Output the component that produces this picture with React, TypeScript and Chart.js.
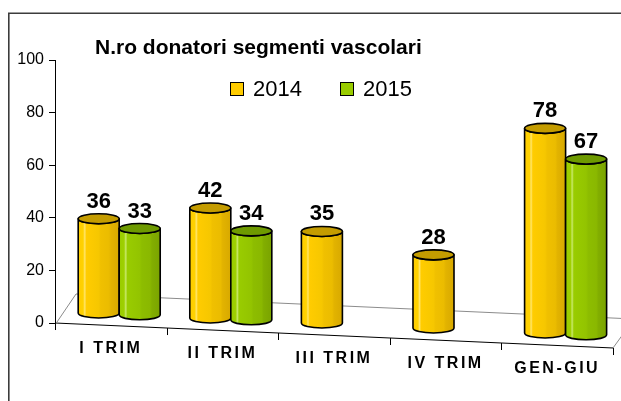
import React, { useEffect, useRef } from "react";
import { Chart, registerables } from "chart.js";

Chart.register(...registerables);

// ---- data ----
const chartTitle = "N.ro donatori segmenti vascolari";
const categories = ["I TRIM", "II TRIM", "III TRIM", "IV TRIM", "GEN-GIU"];
const seriesNames = ["2014", "2015"];
const values2014: (number | null)[] = [36, 42, 35, 28, 78];
const values2015: (number | null)[] = [33, 34, null, null, 67];
const yTicks = [0, 20, 40, 60, 80, 100];

// ---- styles ----
const FONT = 'Arial, "Liberation Sans", sans-serif';
const PALETTE = [
  {
    swatch: "#FFCC00",
    cap: "#C49C00",
    stops: [
      [0, "#FFCC00"],
      [0.12, "#FFD200"],
      [0.16, "#FFE56A"],
      [0.2, "#FFCC00"],
      [0.5, "#F6C700"],
      [0.55, "#F0C000"],
      [0.75, "#EBBC00"],
      [0.8, "#E2B300"],
      [1, "#D8A900"],
    ] as [number, string][],
  },
  {
    swatch: "#99CC00",
    cap: "#6E9A00",
    stops: [
      [0, "#99CC00"],
      [0.12, "#9ED000"],
      [0.16, "#C8E86A"],
      [0.2, "#99CC00"],
      [0.5, "#93C400"],
      [0.55, "#8DBD00"],
      [0.75, "#8AB800"],
      [0.8, "#82AE00"],
      [1, "#7AA300"],
    ] as [number, string][],
  },
];

// 3D floor perspective (pixels)
const SLOPE = 0.0448;
const DEPTH_X = 21;
const DEPTH_Y = 29;
const BAR_DEPTH = 0.4;

const decoPlugin = {
  id: "deco3d",
  beforeDraw(chart: any) {
    const { ctx, width, height } = chart;
    ctx.save();
    ctx.fillStyle = "#ffffff";
    ctx.fillRect(0, 0, width, height);
    ctx.strokeStyle = "#3c3c3c";
    ctx.lineWidth = 1.6;
    ctx.beginPath();
    ctx.moveTo(8.8, height + 2);
    ctx.lineTo(8.8, 13.3);
    ctx.lineTo(width + 2, 13.3);
    ctx.stroke();
    ctx.restore();
  },
  beforeDatasetsDraw(chart: any) {
    const { ctx, chartArea } = chart;
    const xs = chart.scales.x;
    const y0 = chart.scales.y.getPixelForValue(0);
    const x0 = chartArea.left;
    const x1 = chartArea.right;
    const F = (x: number) => y0 + (x - x0) * SLOPE;
    ctx.save();
    // floor (back and side edges)
    ctx.strokeStyle = "#8c8c8c";
    ctx.lineWidth = 1;
    ctx.beginPath();
    ctx.moveTo(x0 + 2, y0 - 1);
    ctx.lineTo(x0 + DEPTH_X, y0 - DEPTH_Y);
    ctx.lineTo(x1 + DEPTH_X, F(x1) - DEPTH_Y);
    ctx.lineTo(x1, F(x1));
    ctx.stroke();
    // front axis line
    ctx.strokeStyle = "#000";
    ctx.beginPath();
    ctx.moveTo(x0, y0);
    ctx.lineTo(x1, F(x1));
    ctx.stroke();
    // category ticks
    for (let i = 0; i <= categories.length; i++) {
      const x = Math.round(xs.getPixelForValue(i - 0.5)) + 0.5;
      ctx.beginPath();
      ctx.moveTo(x, F(x));
      ctx.lineTo(x, F(x) + 7);
      ctx.stroke();
    }
    // category labels
    ctx.fillStyle = "#000";
    ctx.font = `bold 16px ${FONT}`;
    (ctx as any).letterSpacing = "2.5px";
    ctx.textAlign = "center";
    ctx.textBaseline = "middle";
    categories.forEach((c, i) => {
      const x = xs.getPixelForValue(i);
      ctx.fillText(c, x, F(x) + 23);
    });
    ctx.restore();
  },
  afterDatasetsDraw(chart: any) {
    const { ctx, chartArea } = chart;
    const y0 = chart.scales.y.getPixelForValue(0);
    const x0 = chartArea.left;
    const F = (x: number) => y0 + (x - x0) * SLOPE;
    const labels: { text: string; x: number; y: number }[] = [];
    ctx.save();
    chart.data.datasets.forEach((ds: any, di: number) => {
      const pal = PALETTE[di];
      const meta = chart.getDatasetMeta(di);
      meta.data.forEach((el: any, i: number) => {
        const v = ds.data[i];
        if (v === null || v === undefined) return;
        const p = el.getProps(["x", "y", "base", "width"], true);
        const cx = p.x + BAR_DEPTH * DEPTH_X;
        const bottom = F(p.x) - BAR_DEPTH * DEPTH_Y;
        const top = bottom - (p.base - p.y);
        const rx = p.width / 2;
        const ry = 5;
        const left = cx - rx;
        const right = cx + rx;
        const g = ctx.createLinearGradient(left, 0, right, 0);
        pal.stops.forEach(([o, c]) => g.addColorStop(o, c));
        ctx.beginPath();
        ctx.moveTo(left, top);
        ctx.lineTo(left, bottom);
        ctx.ellipse(cx, bottom, rx, ry, 0, Math.PI, 0, true);
        ctx.lineTo(right, top);
        ctx.ellipse(cx, top, rx, ry, 0, 0, Math.PI, false);
        ctx.closePath();
        ctx.fillStyle = g;
        ctx.fill();
        ctx.lineWidth = 1.6;
        ctx.strokeStyle = "#000";
        ctx.lineJoin = "round";
        ctx.stroke();
        ctx.beginPath();
        ctx.ellipse(cx, top, rx, ry, 0, 0, Math.PI * 2);
        ctx.fillStyle = pal.cap;
        ctx.fill();
        ctx.stroke();
        labels.push({ text: String(v), x: cx, y: top - 11 });
      });
    });
    ctx.fillStyle = "#000";
    ctx.font = `bold 22px ${FONT}`;
    ctx.textAlign = "center";
    ctx.textBaseline = "alphabetic";
    labels.forEach((l) => ctx.fillText(l.text, l.x, l.y));
    ctx.restore();
  },
  afterDraw(chart: any) {
    const { ctx } = chart;
    ctx.save();
    ctx.fillStyle = "#000";
    ctx.textAlign = "left";
    ctx.textBaseline = "alphabetic";
    ctx.font = `bold 21px ${FONT}`;
    ctx.fillText(chartTitle, 95, 53.5);
    // legend
    ctx.font = `22px ${FONT}`;
    const items = [
      { x: 230, name: seriesNames[0], color: PALETTE[0].swatch },
      { x: 340, name: seriesNames[1], color: PALETTE[1].swatch },
    ];
    items.forEach((it) => {
      ctx.fillStyle = it.color;
      ctx.fillRect(it.x + 0.5, 82.5, 13, 13);
      ctx.strokeStyle = "#000";
      ctx.lineWidth = 1;
      ctx.strokeRect(it.x + 0.5, 82.5, 13, 13);
      ctx.fillStyle = "#000";
      ctx.fillText(it.name, it.x + 23, 96);
    });
    ctx.restore();
  },
};

export default function App() {
  const ref = useRef<HTMLCanvasElement | null>(null);
  useEffect(() => {
    if (!ref.current) return;
    const chart = new Chart(ref.current, {
      type: "bar",
      data: {
        labels: categories,
        datasets: [
          {
            label: seriesNames[0],
            data: values2014,
            backgroundColor: "rgba(0,0,0,0)",
            borderWidth: 0,
          },
          {
            label: seriesNames[1],
            data: values2015,
            backgroundColor: "rgba(0,0,0,0)",
            borderWidth: 0,
          },
        ],
      },
      options: {
        animation: false,
        responsive: false,
        layout: { padding: { left: 8, right: 8, top: 60, bottom: 78 } },
        datasets: { bar: { categoryPercentage: 0.735, barPercentage: 1 } } as any,
        plugins: {
          legend: { display: false },
          title: { display: false },
          tooltip: { enabled: false },
        },
        scales: {
          x: { display: false },
          y: {
            min: yTicks[0],
            max: yTicks[yTicks.length - 1],
            afterFit: (s: any) => {
              s.width = 47;
            },
            ticks: {
              stepSize: yTicks[1] - yTicks[0],
              color: "#000",
              padding: 5,
              font: { family: FONT, size: 16 },
            },
            grid: { drawOnChartArea: false, tickLength: 6, color: "#000" },
            border: { color: "#000", width: 1 },
          },
        },
      },
      plugins: [decoPlugin],
    });
    return () => chart.destroy();
  }, []);
  return (
    <div style={{ position: "fixed", left: 0, top: 0, width: 621, height: 401 }}>
      <canvas ref={ref} width={621} height={401} style={{ display: "block" }} />
    </div>
  );
}
